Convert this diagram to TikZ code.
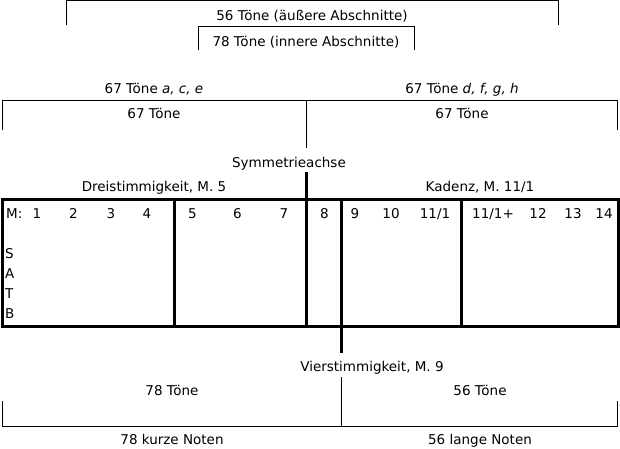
\documentclass[tikz,border=0pt]{standalone}
\usepackage{fontspec}
\setmainfont{DejaVu Sans}

\begin{document}
\begin{tikzpicture}[x = 1pt, y = -1pt, font = \fontsize{13.5}{16}\selectfont,
  bracketline/.style = {line width = 1pt},
  barline/.style = {line width = 3pt},
  lbl/.style = {inner sep = 0pt, text height = 10pt, text depth = 0pt}]

\useasboundingbox (0,0) rectangle (620,448);

\draw[bracketline] (66,25) -- (66,0.5) -- (558,0.5) -- (558,25);
\node[lbl] (outer) at (312,15) {56 Töne (äußere Abschnitte)};

\draw[bracketline] (198,50) -- (198,26) -- (414,26) -- (414,50);
\node[lbl] (inner) at (306,41) {78 Töne (innere Abschnitte)};

\node[lbl] (upleft) at (154,88) {67 Töne \textit{a, c, e}};
\node[lbl] (upright) at (462,88) {67 Töne \textit{d, f, g, h}};
\draw[bracketline] (2.5,130) -- (2.5,100) -- (617.5,100) -- (617.5,130);
\draw[bracketline] (306,100) -- (306,148);
\node[lbl] (halfleft) at (154,113) {67 Töne};
\node[lbl] (halfright) at (462,113) {67 Töne};

\node[lbl] (axis) at (289,162) {Symmetrieachse};
\node[lbl] (three) at (154,186) {Dreistimmigkeit, M. 5};
\node[lbl] (cadence) at (480,186) {Kadenz, M. 11/1};

\draw[barline] (2,199) rectangle (618,326);
\draw[barline] (174,199) -- (174,326);
\draw[barline] (306,172) -- (306,326);
\draw[barline] (341.5,199) -- (341.5,353);
\draw[barline] (461.5,199) -- (461.5,326);

\node[lbl, anchor = west] (mlabel) at (6,213) {M:};
\node[lbl] (m1) at (37,213) {1};
\node[lbl] (m2) at (73.5,213) {2};
\node[lbl] (m3) at (111,213) {3};
\node[lbl] (m4) at (147,213) {4};
\node[lbl] (m5) at (192.5,213) {5};
\node[lbl] (m6) at (237.5,213) {6};
\node[lbl] (m7) at (284,213) {7};
\node[lbl] (m8) at (324.5,213) {8};
\node[lbl] (m9) at (355,213) {9};
\node[lbl] (m10) at (391,213) {10};
\node[lbl] (m11) at (435,213) {11/1};
\node[lbl] (m11b) at (493,213) {11/1+};
\node[lbl] (m12) at (538,213) {12};
\node[lbl] (m13) at (573,213) {13};
\node[lbl] (m14) at (604,213) {14};

\node[lbl, anchor = west] (sop) at (5,253) {S};
\node[lbl, anchor = west] (alt) at (5,273) {A};
\node[lbl, anchor = west] (ten) at (5,293) {T};
\node[lbl, anchor = west] (bas) at (5,313) {B};

\node[lbl] (four) at (372,366) {Vierstimmigkeit, M. 9};
\draw[bracketline] (341.5,377) -- (341.5,426);
\draw[bracketline] (2.5,401) -- (2.5,426) -- (617.5,426) -- (617.5,401);
\node[lbl] (lowleft) at (172,390) {78 Töne};
\node[lbl] (lowright) at (480,390) {56 Töne};
\node[lbl] (shortnotes) at (172,439) {78 kurze Noten};
\node[lbl] (longnotes) at (480,439) {56 lange Noten};
\end{tikzpicture}
\end{document}
